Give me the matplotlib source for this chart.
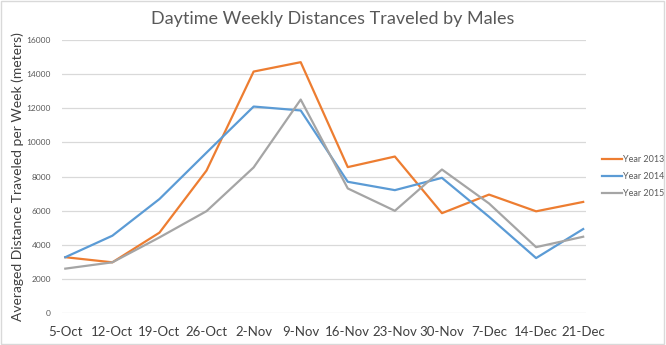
import matplotlib.pyplot as plt

weeks = ['5-Oct', '12-Oct', '19-Oct', '26-Oct', '2-Nov', '9-Nov',
         '16-Nov', '23-Nov', '30-Nov', '7-Dec', '14-Dec', '21-Dec']
year_2013 = [3270, 2970, 4710, 8350, 14150, 14700, 8550, 9170, 5850, 6940, 5960, 6510]
year_2014 = [3270, 4530, 6680, 9400, 12100, 11870, 7690, 7200, 7920, 5640, 3220, 4920]
year_2015 = [2600, 2970, 4430, 5970, 8530, 12510, 7300, 5990, 8410, 6420, 3860, 4470]
yticks = [0, 2000, 4000, 6000, 8000, 10000, 12000, 14000, 16000]

plt.rcParams['font.family'] = ['Lato', 'DejaVu Sans']

fig = plt.figure(figsize=(6.66, 3.45), dpi=100)
ax = fig.add_axes([62 / 666, 32 / 345, 524 / 666, 273 / 345])

x = list(range(len(weeks)))
ax.plot(x, year_2013, color='#ED7D31', lw=1.6, label='Year 2013')
ax.plot(x, year_2014, color='#5B9BD5', lw=1.6, label='Year 2014')
ax.plot(x, year_2015, color='#A5A5A5', lw=1.6, label='Year 2015')

ax.set_xlim(-0.07, 11.06)
ax.set_ylim(0, 16000)
ax.set_yticks(yticks)
ax.set_yticklabels([str(v) for v in yticks], fontsize=6, color='#595959')
ax.set_xticks(x)
ax.set_xticklabels(weeks, fontsize=9.5, color='#404040')
ax.tick_params(axis='both', length=0)
ax.tick_params(axis='y', pad=8)
ax.tick_params(axis='x', pad=9)
ax.grid(axis='y', color='#D9D9D9', lw=0.9)
ax.set_axisbelow(True)
for s in ax.spines.values():
    s.set_visible(False)

ax.set_ylabel('Averaged Distance Traveled per Week (meters)', fontsize=10,
              color='#404040')
ax.yaxis.set_label_coords(-0.072, 0.5)
fig.text(0.5, 0.945, 'Daytime Weekly Distances Traveled by Males',
         ha='center', va='center', fontsize=13, color='#595959')

ax.legend(loc='center left', bbox_to_anchor=(1.015, 0.5), frameon=False,
          fontsize=6.5, handlelength=2.2, handletextpad=0.1,
          labelspacing=0.9, labelcolor='#595959')

# light frame around the whole chart
fig.patches.append(plt.Rectangle((0.002, 0.003), 0.995, 0.993, transform=fig.transFigure,
                                 fill=False, edgecolor='#D9D9D9', lw=1))

fig.savefig('out.png', dpi=100)
